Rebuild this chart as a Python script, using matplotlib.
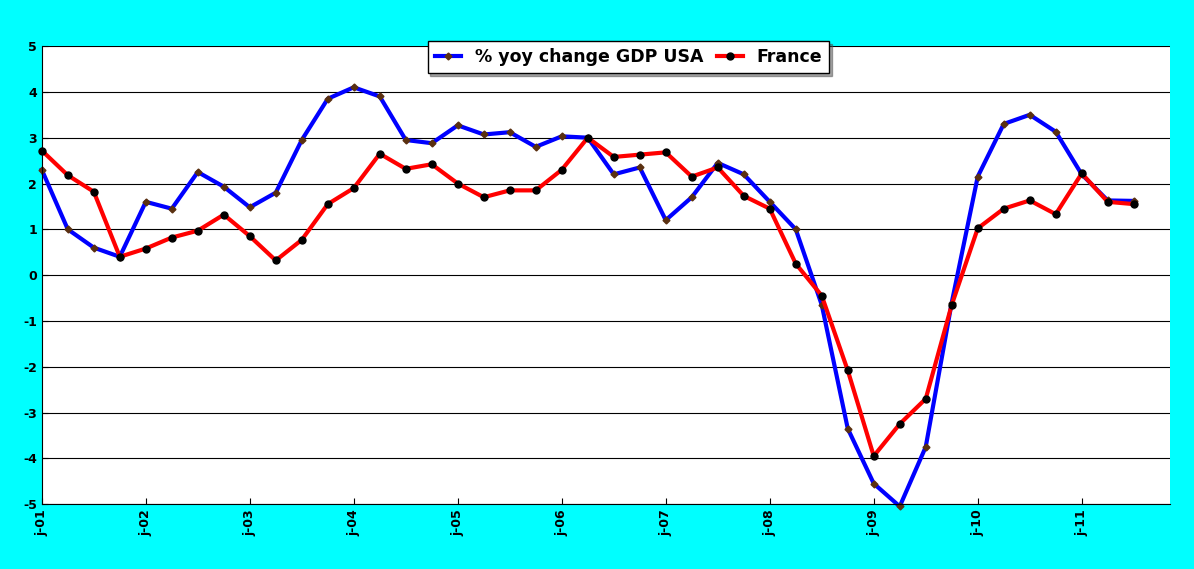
import matplotlib.pyplot as plt

plt.rcParams["axes.unicode_minus"] = False

quarters = list(range(43))
year_ticks = list(range(0, 43, 4))
year_labels = ["j-%02d" % y for y in range(1, 12)]

usa = [2.3, 1.0, 0.6, 0.4, 1.6, 1.45, 2.25, 1.93, 1.48, 1.8, 2.95, 3.85, 4.1, 3.9,
       2.95, 2.88, 3.27, 3.07, 3.12, 2.8, 3.03, 3.0, 2.2, 2.35, 1.2, 1.7, 2.45, 2.2,
       1.6, 1.0, -0.65, -3.35, -4.55, -5.05, -3.75, -0.6, 2.15, 3.3, 3.5, 3.13, 2.2,
       1.63, 1.62]
france = [2.72, 2.18, 1.82, 0.4, 0.58, 0.82, 0.97, 1.32, 0.85, 0.32, 0.77, 1.55, 1.9,
          2.65, 2.32, 2.42, 2.0, 1.7, 1.85, 1.85, 2.3, 3.0, 2.58, 2.63, 2.68, 2.15,
          2.35, 1.73, 1.45, 0.25, -0.45, -2.08, -3.95, -3.25, -2.7, -0.65, 1.02, 1.45,
          1.63, 1.33, 2.22, 1.6, 1.55]

fig = plt.figure(figsize=(11.94, 5.69), dpi=100, facecolor="#00FFFF")
ax = fig.add_axes([0.035, 0.114, 0.945, 0.805])
ax.set_facecolor("white")

ax.plot(quarters, usa, color="#0000FF", linewidth=3, marker="D", markersize=3.5,
        markerfacecolor="#5a3010", markeredgecolor="#5a3010", label="% yoy change GDP USA",
        clip_on=False)
ax.plot(quarters, france, color="#FF0000", linewidth=3, marker="o", markersize=5,
        markerfacecolor="black", markeredgecolor="black", label="France", clip_on=False)

ax.set_xlim(0, 43.4)
ax.set_ylim(-5, 5)
ax.set_yticks(range(-5, 6))
ax.set_xticks(year_ticks)
ax.set_xticklabels(year_labels, rotation=90)
ax.grid(axis="y", color="black", linewidth=0.8)
ax.set_axisbelow(True)
for s in ["top", "right"]:
    ax.spines[s].set_visible(False)
ax.tick_params(axis="both", labelsize=9, direction="in", length=4)
for lab in ax.get_xticklabels() + ax.get_yticklabels():
    lab.set_fontweight("bold")

leg = ax.legend(loc="upper center", bbox_to_anchor=(0.52, 1.03), ncol=2, frameon=True,
                fancybox=False, shadow=True, framealpha=1,
                prop={"weight": "bold", "size": 12.5},
                handlelength=1.5, columnspacing=0.8, borderpad=0.4)
leg.get_frame().set_edgecolor("black")

fig.savefig("out.png", dpi=100, facecolor=fig.get_facecolor())
